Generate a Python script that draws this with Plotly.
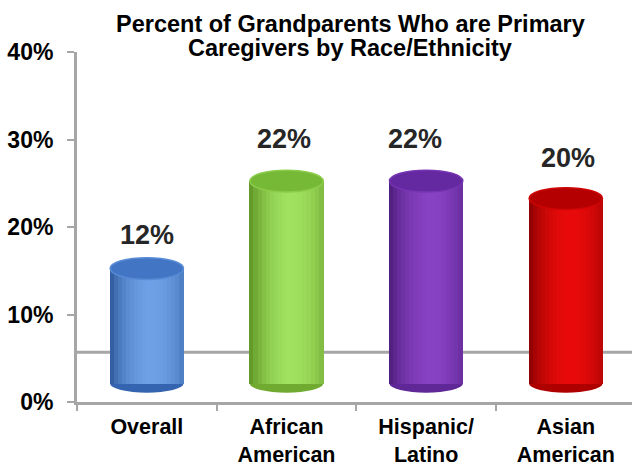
import math
import plotly.graph_objects as go

# ---- data ----
categories = ["Overall", "African<br>American", "Hispanic/<br>Latino", "Asian<br>American"]
values = [12, 22, 22, 20]
value_labels = ["12%", "22%", "22%", "20%"]
y_tick_vals = [0, 10, 20, 30, 40]
y_tick_text = ["0%", "10%", "20%", "30%", "40%"]
title_lines = ["Percent of Grandparents Who are Primary", "Caregivers by Race/Ethnicity"]

# ---- style ----
FONT = "Liberation Sans, Arial, sans-serif"
GRAY = "#a6a6a6"
BAR_W = 0.525
N_STRIPS = 18
FLOOR = 2.1          # front base of the 3D cylinders (perspective)
LIFT = 3.25          # perspective lift of cylinder tops
FLOOR_LINE = 5.7     # back edge of the 3D floor
TOP_H = 2.5          # top ellipse height (y units)
BOT_H = 2.06         # bottom ellipse height (y units)

palettes = [
    dict(dark=(40, 84, 150), light=(110, 160, 230), top=(66, 118, 196), bot=(52, 100, 175)),
    dict(dark=(88, 140, 30), light=(160, 225, 95), top=(118, 185, 55), bot=(112, 170, 48)),
    dict(dark=(70, 25, 115), light=(135, 65, 195), top=(100, 40, 160), bot=(96, 40, 150)),
    dict(dark=(130, 0, 0), light=(232, 10, 10), top=(180, 0, 0), bot=(175, 0, 0)),
]


def mix(a, b, f):
    return "rgb(%d,%d,%d)" % tuple(round(a[k] + (b[k] - a[k]) * f) for k in range(3))


def shade(t):
    # t in [-1, 1] across the cylinder; cylinder lighting
    c = math.cos(math.pi / 2 * max(-1, min(1, (t - 0.15) / 1.15)))
    return max(0.0, c) ** 0.7


fig = go.Figure()

xs = list(range(len(values)))
tops = [v + LIFT for v in values]
sw = BAR_W / N_STRIPS
for j in range(N_STRIPS):
    t = -1 + (2 * j + 1) / N_STRIPS
    f = shade(t)
    colors = [mix(p["dark"], p["light"], f) for p in palettes]
    fig.add_trace(go.Bar(
        x=xs,
        y=[tp - FLOOR for tp in tops],
        base=[FLOOR] * len(xs),
        width=[sw * 1.25] * len(xs),
        offset=[-BAR_W / 2 + j * sw - sw * 0.1] * len(xs),
        marker=dict(color=colors, line=dict(width=0)),
        hoverinfo="skip",
        showlegend=False,
    ))

shapes = [dict(type="line", xref="paper", yref="y", x0=0, x1=1, y0=FLOOR_LINE, y1=FLOOR_LINE,
               line=dict(color=GRAY, width=3), layer="below")]
for i, p in enumerate(palettes):
    shapes.append(dict(type="circle", xref="x", yref="y",
                       x0=i - BAR_W / 2, x1=i + BAR_W / 2,
                       y0=FLOOR - BOT_H / 2, y1=FLOOR + BOT_H / 2,
                       fillcolor=mix(p["bot"], p["bot"], 0), line=dict(width=0), layer="below"))
    shapes.append(dict(type="circle", xref="x", yref="y",
                       x0=i - BAR_W / 2, x1=i + BAR_W / 2,
                       y0=tops[i] - TOP_H / 2, y1=tops[i] + TOP_H / 2,
                       fillcolor=mix(p["top"], p["top"], 0),
                       line=dict(width=1.5, color=mix(p["top"], p["light"], 0.5)), layer="above"))

label_xshift = [0, -2, -11, 2]
annotations = []
for i, v in enumerate(values):
    annotations.append(dict(
        x=i, y=v * 1.1 + 5.9, xref="x", yref="y", text=value_labels[i],
        showarrow=False, xshift=label_xshift[i], yanchor="middle",
        font=dict(family=FONT, size=27, color="#262626", weight="bold"),
    ))

# title lines as annotations above the plot area (tight line spacing)
title_centers_px = [24, 48]
for line, cy in zip(title_lines, title_centers_px):
    annotations.append(dict(
        x=(350 - 77) / 555, xref="paper", xanchor="center",
        y=1 + (52 - cy) / 350, yref="paper", yanchor="middle",
        text=line, showarrow=False,
        font=dict(family=FONT, size=23.5, color="#000000", weight="bold"),
    ))

fig.update_layout(
    width=632, height=469,
    margin=dict(l=77, r=0, t=52, b=67, autoexpand=False),
    paper_bgcolor="white", plot_bgcolor="white",
    barmode="overlay", bargap=0,
    shapes=shapes,
    annotations=annotations,
    xaxis=dict(
        range=[-0.5, 3.474], tickmode="array", tickvals=xs, ticktext=categories,
        ticks="", showgrid=False, zeroline=False, automargin=False,
        showline=True, linecolor=GRAY, linewidth=3,
        tickfont=dict(family=FONT, size=21.5, color="#000000", weight="bold"),
        ticklabelstandoff=3,
        minor=dict(tickmode="array", tickvals=[-0.5, 0.5, 1.5, 2.5, 3.5],
                   ticks="outside", ticklen=6, tickwidth=2, tickcolor=GRAY, showgrid=False),
        fixedrange=True,
    ),
    yaxis=dict(
        range=[0, 40], tickmode="array", tickvals=y_tick_vals, ticktext=y_tick_text,
        ticks="outside", ticklen=7, tickwidth=2, tickcolor=GRAY,
        showgrid=False, zeroline=False, automargin=False,
        showline=True, linecolor=GRAY, linewidth=3,
        tickfont=dict(family=FONT, size=23, color="#000000", weight="bold"),
        ticklabelstandoff=9,
        fixedrange=True,
    ),
)

fig.write_html("out.html", config={"displayModeBar": False})
